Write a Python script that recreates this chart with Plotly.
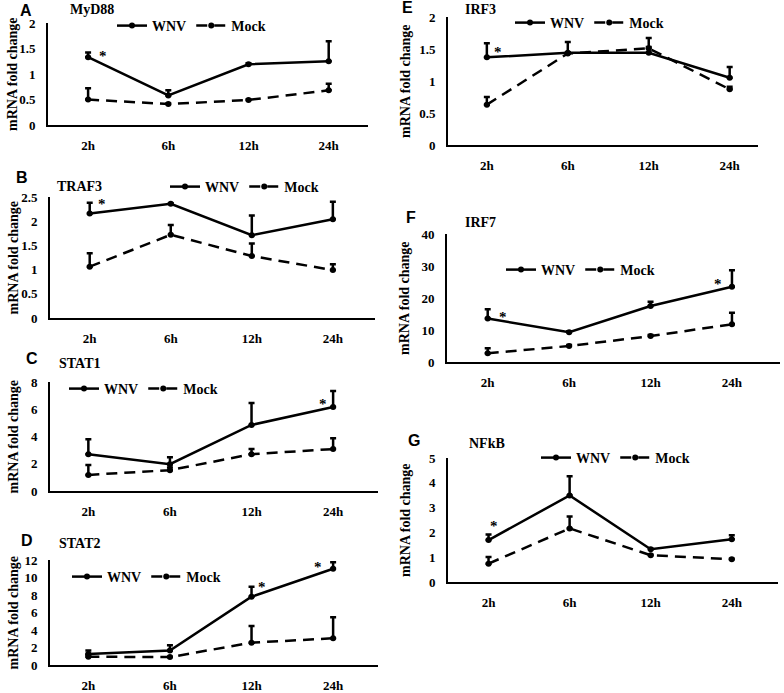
import plotly.graph_objects as go

# ---------------- data ----------------
categories = ["2h", "6h", "12h", "24h"]

myd88_wnv = [1.33, 0.58, 1.19, 1.25]
myd88_wnv_sd = [0.09, 0.10, 0.02, 0.39]
myd88_mock = [0.50, 0.41, 0.49, 0.68]
myd88_mock_sd = [0.22, 0.01, 0.01, 0.13]

traf3_wnv = [2.16, 2.36, 1.71, 2.04]
traf3_wnv_sd = [0.22, 0.01, 0.41, 0.36]
traf3_mock = [1.06, 1.72, 1.28, 0.99]
traf3_mock_sd = [0.28, 0.20, 0.26, 0.12]

stat1_wnv = [2.70, 1.97, 4.85, 6.16]
stat1_wnv_sd = [1.10, 0.50, 1.60, 1.18]
stat1_mock = [1.18, 1.53, 2.70, 3.08]
stat1_mock_sd = [0.72, 0.19, 0.38, 0.79]

stat2_wnv = [1.25, 1.65, 7.80, 11.00]
stat2_wnv_sd = [0.40, 0.60, 1.15, 0.75]
stat2_mock = [0.95, 0.90, 2.55, 3.05]
stat2_mock_sd = [0.15, 0.05, 1.90, 2.40]

irf3_wnv = [1.37, 1.44, 1.44, 1.05]
irf3_wnv_sd = [0.22, 0.01, 0.23, 0.17]
irf3_mock = [0.63, 1.43, 1.51, 0.87]
irf3_mock_sd = [0.12, 0.18, 0.02, 0.04]

irf7_wnv = [13.6, 9.3, 17.5, 23.5]
irf7_wnv_sd = [2.9, 0.3, 1.3, 5.2]
irf7_mock = [2.7, 5.0, 8.1, 11.8]
irf7_mock_sd = [1.6, 0.3, 0.3, 3.6]

nfkb_wnv = [1.69, 3.49, 1.32, 1.72]
nfkb_wnv_sd = [0.23, 0.77, 0.02, 0.17]
nfkb_mock = [0.74, 2.16, 1.08, 0.92]
nfkb_mock_sd = [0.27, 0.48, 0.02, 0.02]

# significance stars: category and y level
myd88_star_cat, myd88_star_y = ["2h"], [1.43]
traf3_star_cat, traf3_star_y = ["2h"], [2.44]
stat1_star_cat, stat1_star_y = ["24h"], [6.7]
stat2_star_cat, stat2_star_y = ["12h", "24h"], [9.4, 11.7]
irf3_star_cat, irf3_star_y = ["2h"], [1.52]
irf7_star_cat, irf7_star_y = ["2h", "24h"], [15.3, 25.6]
nfkb_star_cat, nfkb_star_y = ["2h"], [2.4]

series_names = ["WNV", "Mock"]
y_title = "mRNA fold change"

# ---------------- layout helpers ----------------
W, H = 784, 693
SERIF = "Liberation Serif, Times New Roman, serif"
SANS = "Liberation Sans, Arial, sans-serif"


def px(x):
    return x / W


def py(y):
    return 1 - y / H


panels = [
    dict(letter="A", gene="MyD88", w=myd88_wnv, wsd=myd88_wnv_sd, m=myd88_mock, msd=myd88_mock_sd,
         sc=myd88_star_cat, sy=myd88_star_y, sx=[15],
         x0=48, x1=368, yb=125, yt=23, ymax=2, dt=0.5, xr=[-0.5, 3.49],
         lp=(26, 10), gp=(68, 9), lg=(112, 26), yx=13),
    dict(letter="B", gene="TRAF3", w=traf3_wnv, wsd=traf3_wnv_sd, m=traf3_mock, msd=traf3_mock_sd,
         sc=traf3_star_cat, sy=traf3_star_y, sx=[12],
         x0=50, x1=375, yb=318, yt=197, ymax=2.5, dt=0.5, xr=[-0.49, 3.52],
         lp=(22, 177), gp=(55, 186), lg=(165, 187), yx=13),
    dict(letter="C", gene="STAT1", w=stat1_wnv, wsd=stat1_wnv_sd, m=stat1_mock, msd=stat1_mock_sd,
         sc=stat1_star_cat, sy=stat1_star_y, sx=[-10],
         x0=50, x1=378, yb=491, yt=382, ymax=8, dt=2, xr=[-0.47, 3.55],
         lp=(32, 358), gp=(57, 363), lg=(64, 389), yx=13),
    dict(letter="D", gene="STAT2", w=stat2_wnv, wsd=stat2_wnv_sd, m=stat2_mock, msd=stat2_mock_sd,
         sc=stat2_star_cat, sy=stat2_star_y, sx=[10, -15],
         x0=50, x1=378, yb=665, yt=560, ymax=12, dt=2, xr=[-0.47, 3.55],
         lp=(27, 540), gp=(57, 543), lg=(67, 577), yx=13),
    dict(letter="E", gene="IRF3", w=irf3_wnv, wsd=irf3_wnv_sd, m=irf3_mock, msd=irf3_mock_sd,
         sc=irf3_star_cat, sy=irf3_star_y, sx=[11],
         x0=448, x1=758, yb=145, yt=17, ymax=2, dt=0.5, xr=[-0.48, 3.35],
         lp=(407, 8), gp=(463, 9), lg=(510, 23), yx=405),
    dict(letter="F", gene="IRF7", w=irf7_wnv, wsd=irf7_wnv_sd, m=irf7_mock, msd=irf7_mock_sd,
         sc=irf7_star_cat, sy=irf7_star_y, sx=[15, -14],
         x0=447, x1=780, yb=362, yt=234, ymax=40, dt=10, xr=[-0.5, 3.59],
         lp=(411, 217), gp=(463, 223), lg=(501, 270), yx=405),
    dict(letter="G", gene="NFkB", w=nfkb_wnv, wsd=nfkb_wnv_sd, m=nfkb_mock, msd=nfkb_mock_sd,
         sc=nfkb_star_cat, sy=nfkb_star_y, sx=[5],
         x0=448, x1=778, yb=582, yt=458, ymax=5, dt=1, xr=[-0.5, 3.57],
         lp=(414, 440), gp=(467, 443), lg=(536, 458), yx=405),
]

fig = go.Figure()
layout = dict(
    width=W, height=H,
    margin=dict(l=0, r=0, t=0, b=0, pad=0, autoexpand=False),
    paper_bgcolor="white", plot_bgcolor="white",
    showlegend=True,
    font=dict(family=SERIF, color="black"),
)
annotations = []

tick_font = dict(family=SERIF, size=13, color="black", weight="bold")

for i, p in enumerate(panels, start=1):
    sfx = "" if i == 1 else str(i)
    xa, ya = "x" + sfx, "y" + sfx
    leg = "legend" + sfx
    err_w = dict(type="data", symmetric=False, array=p["wsd"], arrayminus=[0] * 4,
                 color="black", thickness=2.5, width=3)
    err_m = dict(type="data", symmetric=False, array=p["msd"], arrayminus=[0] * 4,
                 color="black", thickness=2.5, width=3)
    fig.add_trace(go.Scatter(
        x=categories, y=p["w"], name=series_names[0], mode="lines+markers",
        line=dict(color="black", width=2.5), marker=dict(color="black", size=6),
        error_y=err_w, xaxis=xa, yaxis=ya, legend=leg, showlegend=True))
    fig.add_trace(go.Scatter(
        x=categories, y=p["m"], name=series_names[1], mode="lines+markers",
        line=dict(color="black", width=2.5, dash="11px,7px"), marker=dict(color="black", size=6),
        error_y=err_m, xaxis=xa, yaxis=ya, legend=leg, showlegend=True))

    layout["xaxis" + sfx] = dict(
        domain=[px(p["x0"]), px(p["x1"])], anchor=ya, type="category",
        categoryorder="array", categoryarray=categories,
        range=p["xr"], showline=True, linecolor="black", linewidth=2,
        showgrid=False, zeroline=False, ticks="", tickfont=tick_font,
        ticklabelstandoff=7, automargin=False, fixedrange=True)
    layout["yaxis" + sfx] = dict(
        domain=[py(p["yb"]), py(p["yt"])], anchor=xa,
        range=[0, p["ymax"]], dtick=p["dt"], tick0=0,
        showline=True, linecolor="black", linewidth=2,
        showgrid=False, zeroline=False, ticks="", tickfont=tick_font,
        ticklabelstandoff=8, automargin=False, fixedrange=True)
    layout[leg] = dict(
        orientation="h", x=px(p["lg"][0]), y=py(p["lg"][1]),
        xanchor="left", yanchor="middle", bgcolor="rgba(0,0,0,0)",
        font=dict(family=SERIF, size=14, color="black", weight="bold"),
        itemwidth=30, tracegroupgap=0, traceorder="normal")

    annotations.append(dict(
        text=p["letter"], x=px(p["lp"][0]), y=py(p["lp"][1]), xref="paper", yref="paper",
        showarrow=False, xanchor="center", yanchor="middle",
        font=dict(family=SANS, size=16, color="black", weight="bold")))
    annotations.append(dict(
        text=p["gene"], x=px(p["gp"][0]), y=py(p["gp"][1]), xref="paper", yref="paper",
        showarrow=False, xanchor="left", yanchor="middle",
        font=dict(family=SERIF, size=14, color="black", weight="bold")))
    annotations.append(dict(
        text=y_title, x=px(p["yx"]), y=py((p["yb"] + p["yt"]) / 2), xref="paper", yref="paper",
        showarrow=False, textangle=-90, xanchor="center", yanchor="middle",
        font=dict(family=SERIF, size=14, color="black", weight="bold")))
    for c, yv, xs in zip(p["sc"], p["sy"], p["sx"]):
        annotations.append(dict(
            text="*", x=c, y=yv, xref=xa, yref=ya, showarrow=False,
            xshift=xs, yshift=-4, xanchor="center", yanchor="middle",
            font=dict(family=SERIF, size=15, color="black", weight="bold")))

layout["annotations"] = annotations
fig.update_layout(**layout)
fig.write_html(
    "out.html",
    config={"displayModeBar": False},
    post_script="document.body.style.margin='0';document.body.style.padding='0';",
)
